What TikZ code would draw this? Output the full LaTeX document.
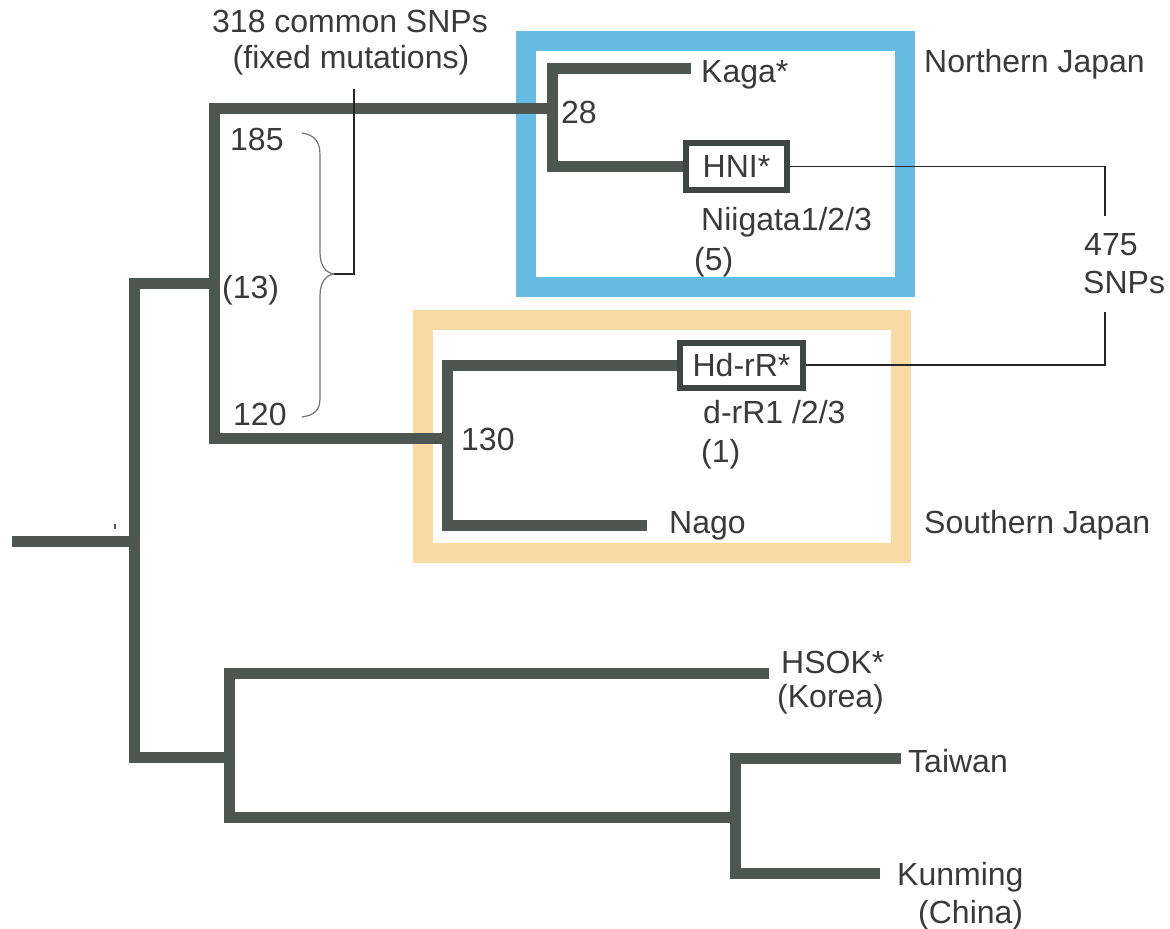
\documentclass[tikz,border=0pt]{standalone}
\usepackage{fontspec}
\setmainfont{Liberation Sans}
\definecolor{branchc}{HTML}{4E5652}
\definecolor{bluec}{HTML}{67BBE3}
\definecolor{peachc}{HTML}{F8DAA3}
\definecolor{textc}{HTML}{3A3A3A}
\begin{document}
\begin{tikzpicture}[x=1pt,y=-1pt,
  every node/.style={text=textc,font=\fontsize{32}{37}\selectfont},
  branch/.style={draw=branchc,line width=11pt,line join=miter},
  leafbox/.style={draw=branchc!80!black,line width=6pt,fill=white,inner sep=0pt},
  region/.style={line width=20pt},
  thinline/.style={draw=black!85,line width=1.4pt},
  bracestyle/.style={draw=black!55,line width=1.2pt},
  lbl/.style={anchor=base west,inner sep=0pt},
  clbl/.style={anchor=base,inner sep=0pt}]
\useasboundingbox (0,0) rectangle (1170,929);
% region boxes
\draw[region,draw=bluec] (525.5,41) rectangle (905,286.5);
\draw[region,draw=peachc] (423,320) rectangle (901,552.5);
% internal nodes
\coordinate (root0) at (12,541);
\coordinate (nA) at (134,541);
\coordinate (nB) at (214,283);
\coordinate (nE) at (229,757);
\coordinate (nN) at (552,108);
\coordinate (nS) at (447,438);
\coordinate (nF) at (735,817);
% leaf ends
\coordinate (kagaend) at (691,68);
\coordinate (nagoend) at (647,525);
\coordinate (hsokend) at (769,673);
\coordinate (taiwanend) at (901,758);
\coordinate (kunmingend) at (880,873);
\node[leafbox,minimum width=101pt,minimum height=47pt] (HNI) at (736.5,166.5) {HNI*};
\node[leafbox,minimum width=123pt,minimum height=45pt] (HdrR) at (741.5,365) {Hd-rR*};
% tree
\draw[branch] (root0) -- (nA);
\draw[branch] (nB) -| (nA) |- (nE);
\draw[branch] (nN) -| (nB) |- (nS);
\draw[branch] (kagaend) -| (nN) |- (HNI.west);
\draw[branch] (HdrR.west) -| (nS) |- (nagoend);
\draw[branch] (hsokend) -| (nE) |- (nF);
\draw[branch] (taiwanend) -| (nF) |- (kunmingend);
\node[leafbox,minimum width=101pt,minimum height=47pt] at (HNI) {HNI*};
\node[leafbox,minimum width=123pt,minimum height=45pt] at (HdrR) {Hd-rR*};
% stray mark
\fill[branchc] (114,524) rectangle (116,529);
% 475 SNPs connectors
\coordinate (s1) at (1105,216);
\coordinate (s2) at (1105,312);
\draw[thinline] (HNI.east) -| (s1);
\draw[thinline] (HdrR.east) -| (s2);
\node[lbl] (n475) at (1084,255) {475};
\node[lbl] (nsnps) at (1083,293) {SNPs};
% brace and common SNP label
\coordinate (bracetip) at (334,274);
\coordinate (bracetop) at (354,89);
\draw[bracestyle] (302,133) .. controls (315,135) and (320,142) .. (320,155) -- (320,252)
  .. controls (320,266) and (326,273) .. (bracetip)
  .. controls (326,275) and (320,282) .. (320,296) -- (320,398)
  .. controls (320,410) and (315,415) .. (302,417);
\draw[thinline] (bracetip) -| (bracetop);
\node[clbl] (common) at (350,32) {318 common SNPs};
\node[clbl] (fixed) at (351,68) {(fixed mutations)};
% branch labels
\node[lbl] (l185) at (230,150) {185};
\node[lbl] (l13) at (222,298) {(13)};
\node[lbl] (l120) at (233,425) {120};
\node[lbl] (l130) at (461,450) {130};
\node[lbl] (l28) at (561,123) {28};
% leaf labels
\node[lbl] (kaga) at (701,82) {Kaga*};
\node[lbl] (niigata) at (701,230) {Niigata1/2/3};
\node[lbl] (n5) at (694,270) {(5)};
\node[lbl] (drr) at (703,423) {d-rR1 /2/3};
\node[lbl] (n1) at (701,462) {(1)};
\node[lbl] (nago) at (669,533) {Nago};
\node[lbl] (hsok) at (781,673) {HSOK*};
\node[lbl] (korea) at (777,707) {(Korea)};
\node[lbl] (taiwan) at (908,772) {Taiwan};
\node[lbl] (kunming) at (897,885) {Kunming};
\node[lbl] (china) at (918,923) {(China)};
% region labels
\node[lbl] (north) at (924,72) {Northern Japan};
\node[lbl] (south) at (924,533) {Southern Japan};
\end{tikzpicture}
\end{document}
